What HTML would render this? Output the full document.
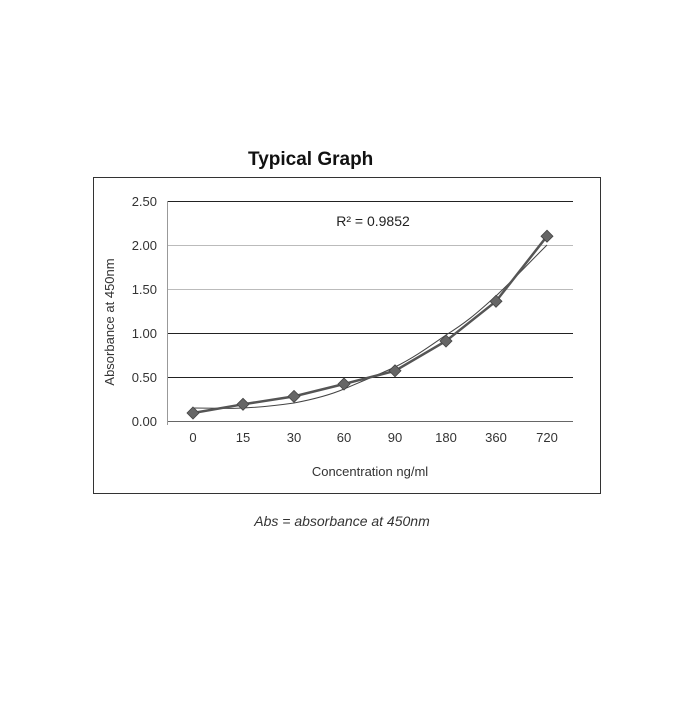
<!DOCTYPE html>
<html><head><meta charset="utf-8"><style>
html,body{margin:0;padding:0;background:#fff;}
</style></head><body>
<svg width="700" height="700" xmlns="http://www.w3.org/2000/svg" font-family="Liberation Sans, sans-serif">
<rect width="700" height="700" fill="#fff"/>
<text x="248" y="165" font-size="19" font-weight="bold" fill="#111">Typical Graph</text>
<rect x="93.5" y="177.5" width="507" height="316" fill="none" stroke="#333" stroke-width="1"/>
<g stroke-width="1">
<line x1="167" y1="201.5" x2="573" y2="201.5" stroke="#222"/>
<line x1="167" y1="245.5" x2="573" y2="245.5" stroke="#bbb"/>
<line x1="167" y1="289.5" x2="573" y2="289.5" stroke="#bbb"/>
<line x1="167" y1="333.5" x2="573" y2="333.5" stroke="#222"/>
<line x1="167" y1="377.5" x2="573" y2="377.5" stroke="#222"/>
<line x1="167" y1="421.5" x2="573" y2="421.5" stroke="#666"/>
<line x1="167.5" y1="201" x2="167.5" y2="425" stroke="#999"/>
</g>
<g font-size="13" fill="#333" text-anchor="end">
<text x="157" y="206">2.50</text><text x="157" y="250">2.00</text><text x="157" y="294">1.50</text>
<text x="157" y="338">1.00</text><text x="157" y="382">0.50</text><text x="157" y="426">0.00</text>
</g>
<g font-size="13" fill="#333" text-anchor="middle">
<text x="193" y="442">0</text><text x="243" y="442">15</text><text x="294" y="442">30</text><text x="344" y="442">60</text>
<text x="395" y="442">90</text><text x="446" y="442">180</text><text x="496" y="442">360</text><text x="547" y="442">720</text>
<text x="370" y="476">Concentration ng/ml</text>
</g>
<text x="373" y="226" font-size="14" fill="#222" text-anchor="middle">R² = 0.9852</text>
<text transform="translate(114,322) rotate(-90)" font-size="13" fill="#333" text-anchor="middle">Absorbance at 450nm</text>
<path d="M193,408 C220,408 230,409 243,408 C265,407 280,405 294,403 C315,399 330,395 344,389 C365,380 380,374 395,367 C415,357 430,346 446,335 C470,320 480,310 496,296 C515,278 530,262 547,245" fill="none" stroke="#444" stroke-width="1"/>
<polyline points="193,413 243,404.3 294,396.4 344,384 395,370.8 446,341 496,301.3 547,236.2" fill="none" stroke="#555" stroke-width="2.5"/>
<g fill="#666" stroke="#444" stroke-width="0.8">
<path d="M193,407 l6,6 l-6,6 l-6,-6z"/><path d="M243,398.3 l6,6 l-6,6 l-6,-6z"/>
<path d="M294,390.4 l6,6 l-6,6 l-6,-6z"/><path d="M344,378 l6,6 l-6,6 l-6,-6z"/>
<path d="M395,364.8 l6,6 l-6,6 l-6,-6z"/><path d="M446,335 l6,6 l-6,6 l-6,-6z"/>
<path d="M496,295.3 l6,6 l-6,6 l-6,-6z"/><path d="M547,230.2 l6,6 l-6,6 l-6,-6z"/>
</g>
<text x="342" y="526" font-size="14" font-style="italic" fill="#333" text-anchor="middle">Abs = absorbance at 450nm</text>
</svg>
</body></html>
